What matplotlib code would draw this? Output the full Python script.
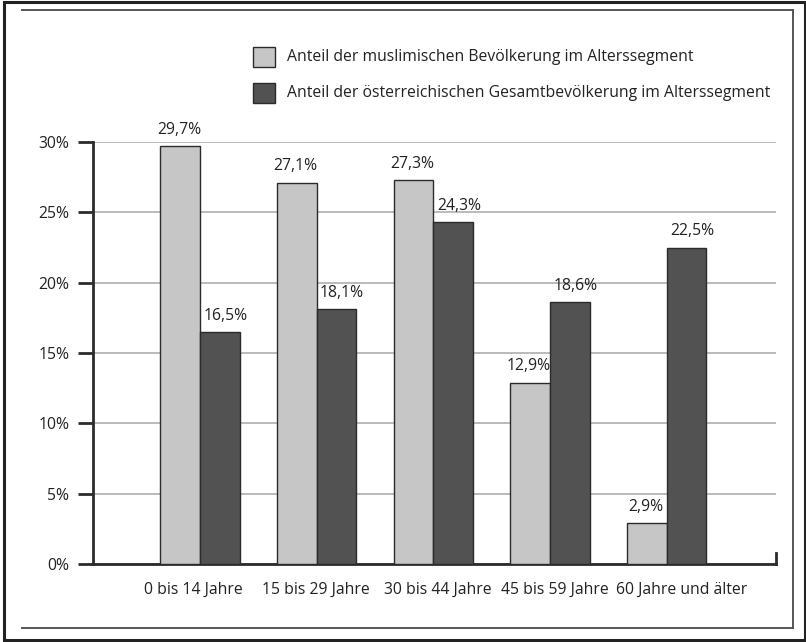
import numpy as np
import matplotlib
matplotlib.use("Agg")
import matplotlib.pyplot as plt
import matplotlib.transforms as mtransforms
from matplotlib.patches import Rectangle
from matplotlib.lines import Line2D

plt.rcParams['font.family'] = ['Open Sans', 'DejaVu Sans']

categories = ["0 bis 14 Jahre", "15 bis 29 Jahre", "30 bis 44 Jahre",
              "45 bis 59 Jahre", "60 Jahre und älter"]
muslim = [29.7, 27.1, 27.3, 12.9, 2.9]
gesamt = [16.5, 18.1, 24.3, 18.6, 22.5]
series_labels = ["Anteil der muslimischen Bevölkerung im Alterssegment",
                 "Anteil der österreichischen Gesamtbevölkerung im Alterssegment"]
yticks = [0, 5, 10, 15, 20, 25, 30]

c_light = '#c6c6c6'
c_dark = '#525252'
c_edge = '#2b2b2b'
c_text = '#222222'
fs = 11.3

W, H = 806, 642
fig = plt.figure(figsize=(W / 100, H / 100), dpi=100)

def fx(px): return px / W
def fy(py): return 1 - py / H

ax = fig.add_axes([fx(93), fy(564), fx(776) - fx(93), fy(142) - fy(564)])

x = np.arange(len(categories))
bw = 0.34
b1 = ax.bar(x - bw / 2, muslim, bw, color=c_light, edgecolor=c_edge, linewidth=1.0, zorder=3)
b2 = ax.bar(x + bw / 2, gesamt, bw, color=c_dark, edgecolor=c_edge, linewidth=1.0, zorder=3)

# value labels; the dark-bar labels sit a little right of their bar in the original
for bars, vals, dx in [(b1, muslim, -1), (b2, gesamt, 4)]:
    for r, v in zip(bars, vals):
        ax.annotate(f"{v:.1f}".replace('.', ',') + "%",
                    (r.get_x() + r.get_width() / 2, v),
                    xytext=(dx, 6), textcoords='offset points',
                    ha='center', va='bottom', fontsize=fs, color=c_text,
                    annotation_clip=False)

ax.set_xlim(-0.918, 4.936)
ax.set_ylim(0, 30)
ax.set_yticks(yticks)
ax.set_yticklabels([f"{t}%" for t in yticks], fontsize=fs, color=c_text)
ax.yaxis.grid(True, color='#a8a8a8', linewidth=1.1, zorder=0)
ax.set_xticks(x)
ax.set_xticklabels(categories, fontsize=fs, color=c_text)
ax.tick_params(axis='x', length=0, pad=13)
ax.tick_params(axis='y', length=11, width=2, color=c_edge, pad=6)

# category labels in the original sit slightly right of the group centres
label_shift_px = [-7, -1, 4, 5, 15]
for lbl, dx in zip(ax.get_xticklabels(), label_shift_px):
    lbl.set_transform(lbl.get_transform() +
                      mtransforms.ScaledTranslation(dx / 100, 0, fig.dpi_scale_trans))

for s in ['top', 'right']:
    ax.spines[s].set_visible(False)
ax.spines['left'].set_linewidth(2)
ax.spines['left'].set_color(c_edge)
ax.spines['bottom'].set_linewidth(2)
ax.spines['bottom'].set_color(c_edge)
ax.plot([4.936, 4.936], [0, 0.75], color=c_edge, linewidth=2, clip_on=False, zorder=4)

# legend, drawn in figure pixels
for i, (lab, col) in enumerate(zip(series_labels, [c_light, c_dark])):
    top = 47 + i * 36
    fig.patches.append(Rectangle((fx(253), fy(top + 20)), fx(22), fy(top) - fy(top + 20),
                                 transform=fig.transFigure, facecolor=col,
                                 edgecolor=c_edge, linewidth=1.0))
    fig.text(fx(287), fy(top + 10), lab, fontsize=fs, color=c_text, va='center', ha='left')

# frames
fig.patches.append(Rectangle((fx(4), fy(640)), fx(801), fy(2) - fy(640),
                             transform=fig.transFigure, fill=False,
                             edgecolor='#222222', linewidth=2.2))
for xs, ys in [([22, 793], [10, 10]), ([793, 793], [10, 628]), ([22, 793], [628, 628])]:
    fig.lines.append(Line2D([fx(v) for v in xs], [fy(v) for v in ys],
                            transform=fig.transFigure, color='#555555', linewidth=1.4))

fig.savefig("out.png", dpi=100)
